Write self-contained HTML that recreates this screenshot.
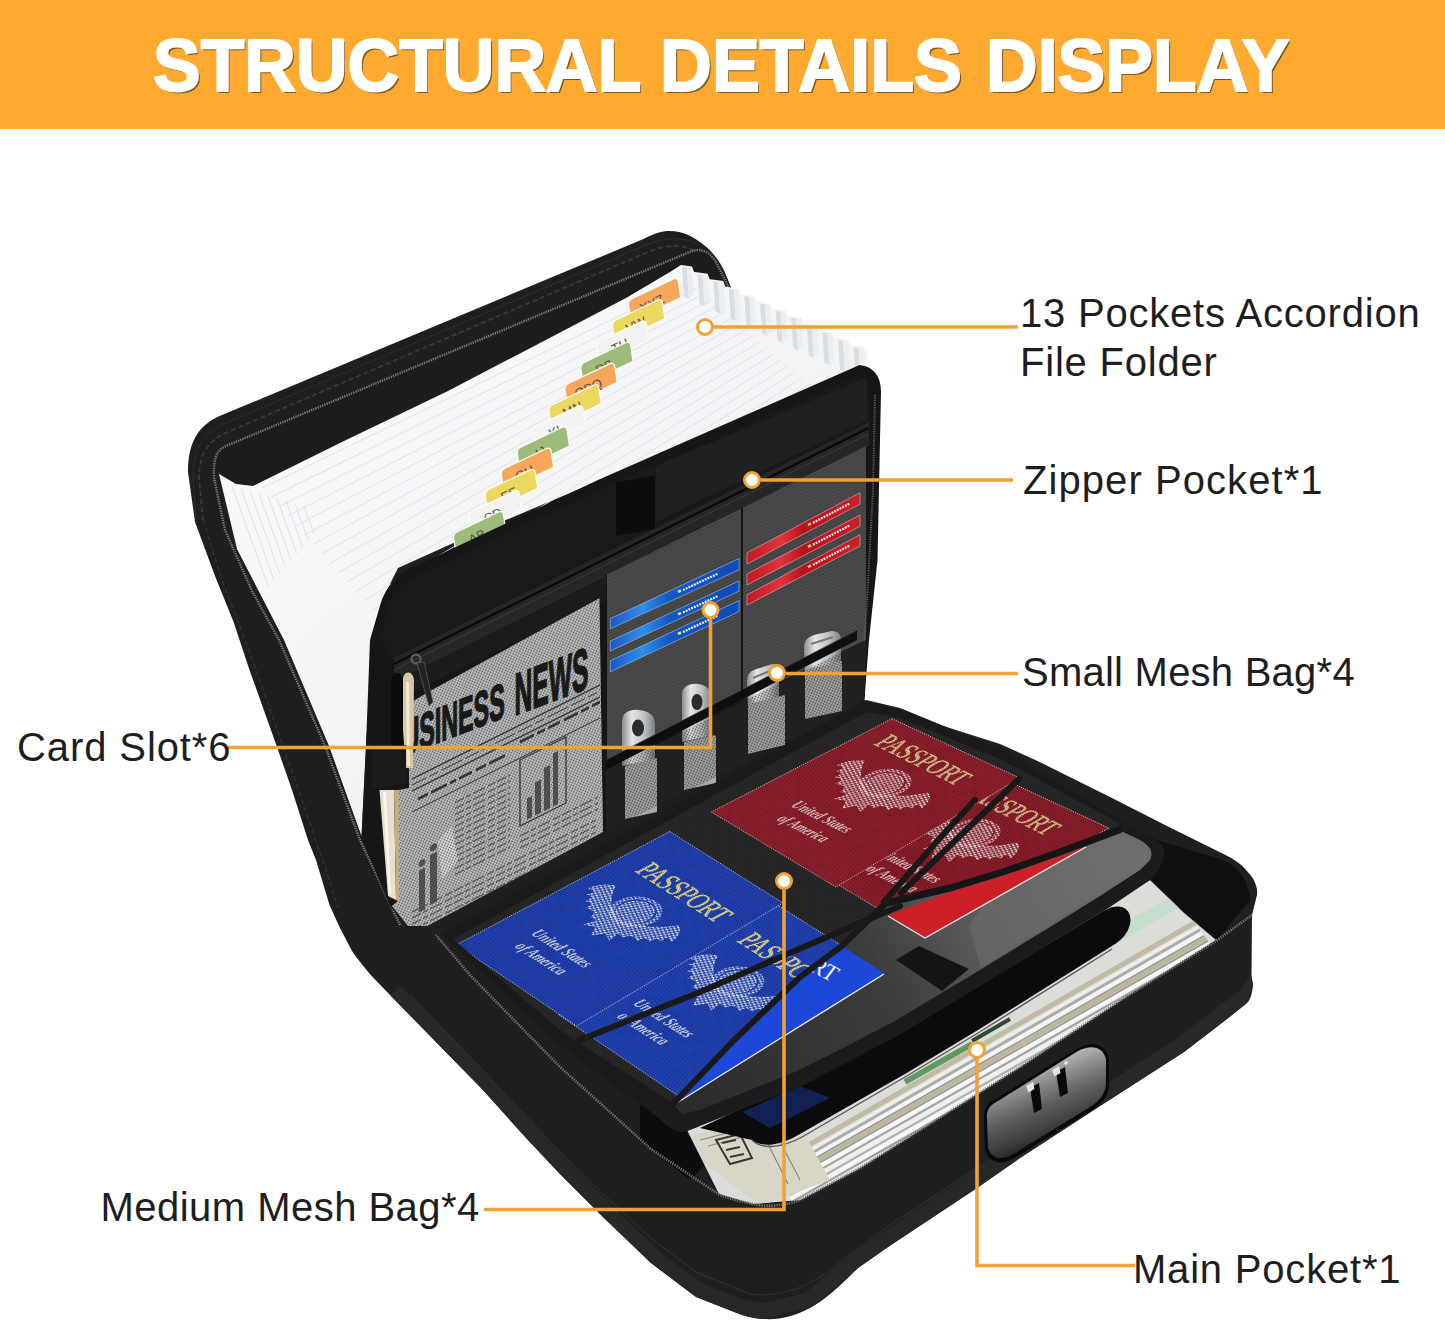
<!DOCTYPE html>
<html><head><meta charset="utf-8">
<style>
html,body{margin:0;padding:0;background:#fff;}
body{width:1445px;height:1322px;position:relative;overflow:hidden;font-family:"Liberation Sans",sans-serif;}
#hdr{position:absolute;left:0;top:0;width:1445px;height:128.7px;background:#fea92f;}
.tw{position:absolute;top:28px;white-space:nowrap;font-weight:bold;font-size:75px;line-height:75px;color:#fff;text-shadow:2px 2px 0 #7a5a20;-webkit-text-stroke:2px #fff;transform-origin:0 0;}
.lb{position:absolute;white-space:nowrap;font-size:40px;line-height:40px;color:#1e1e1e;}
#art{position:absolute;left:0;top:0;}
</style></head><body>
<div id="hdr"></div>
<div class="tw" id="t1" style="left:153.1px;transform:scaleX(0.953)">STRUCTURAL</div>
<div class="tw" id="t2" style="left:660.2px;transform:scaleX(0.958)">DETAILS</div>
<div class="tw" id="t3" style="left:986.2px;transform:scaleX(0.954)">DISPLAY</div>
<svg id="art" width="1445" height="1322" viewBox="0 0 1445 1322">
<!--PRODUCT-->
<defs>
<linearGradient id="gWhite" x1="0" y1="0" x2="1" y2="1">
<stop offset="0" stop-color="#fbfbfc"/><stop offset="1" stop-color="#eceef0"/>
</linearGradient>
<pattern id="mesh" width="3" height="3" patternUnits="userSpaceOnUse" patternTransform="rotate(20)">
<rect width="3" height="3" fill="#d9d9d9"/><rect width="1.3" height="1.3" fill="#3a3a3a"/>
</pattern>
<pattern id="meshd" width="3" height="3" patternUnits="userSpaceOnUse" patternTransform="rotate(20)">
<rect width="3" height="3" fill="#222"/><rect width="1.2" height="1.2" fill="#555"/>
</pattern>
<pattern id="wvb" width="3" height="3" patternUnits="userSpaceOnUse" patternTransform="rotate(30)">
<rect width="3" height="3" fill="#1f3db0"/><rect width="1.4" height="1.4" fill="#12298a"/>
</pattern>
<pattern id="wvr" width="3" height="3" patternUnits="userSpaceOnUse" patternTransform="rotate(30)">
<rect width="3" height="3" fill="#8f1f2c"/><rect width="1.4" height="1.4" fill="#6c141f"/>
</pattern>
<pattern id="fab" width="3" height="3" patternUnits="userSpaceOnUse" patternTransform="rotate(-25)">
<rect width="3" height="3" fill="#4a4a4b"/><rect width="3" height="1" fill="#3f3f40"/>
</pattern>
</defs>
<!-- shell silhouette -->
<path fill="#1f1f20" d="M188,472 C188,440 200,424 222,415 L644,238.8 C655,233 662,231 669,231 C677,231 684,233 689.5,235.4 C698,240 703,244 706.5,247 C712,252 715,256 718,260 C722,266 724,270 726,275 L733,292 L859,364 C875,368 880,378 880,392 L876,490 L869,602 L864,700 L871,703 L1000,744 L1037,760.7 L1110,797 L1167,826 L1223.5,854 C1236,860 1242,865 1246,870 C1252,876 1254,880 1255.3,883.5 C1257,888 1257.5,891 1257,895 L1252,915 L1251.5,976 L1253,985 C1252,995 1250,1000 1247,1003 L1227,1019 L1184,1052 L1100,1106 L1020,1158 L977,1188 L888,1247 L858,1268 C840,1286 825,1300 810,1308 C795,1316 780,1320 764,1319 C756,1319 748,1317 742,1315 L696,1297 L651,1263 L605,1219 L560,1174 L527,1139 L482,1089 L436,1042 L391,996 C375,980 362,966 352,951 L340,928 L329.5,905 L316,860 L308,840 L292,790 L277,747 L249.5,670 L233.6,622 L215.4,577 L195,522 Z"/>
<!-- piping band along base bottom -->
<path fill="#28282a" d="M391,996 L436,1042 L482,1089 L527,1139 L560,1174 L605,1219 L651,1263 L696,1297 L742,1315 L764,1319 L810,1308 L858,1268 L888,1247 L977,1188 L1020,1158 L1100,1106 L1184,1052 L1227,1019 L1247,1003 L1253,985 L1251,974 L1240,990 L1220,1005 L1177,1038 L1093,1092 L1013,1144 L970,1174 L880,1234 L850,1255 L805,1293 L764,1303 L745,1300 L702,1283 L660,1252 L614,1208 L569,1163 L536,1128 L491,1078 L445,1031 L400,985 Z"/>
<!-- lid rim stitching -->
<path fill="none" stroke="#3c3c3d" stroke-width="1.6" stroke-dasharray="5 3" d="M203,520 L199,478 C199,450 212,438 230,431 L648,252 C668,244 684,244 696,252 C708,260 716,272 722,284"/>
<path fill="none" stroke="#2c2c2d" stroke-width="1.2" d="M196,520 L193,476 C193,446 206,431 226,423 L646,245 C668,236 686,237 700,246"/>
<path fill="none" stroke="#333" stroke-width="1.4" stroke-dasharray="5 3" d="M203,520 L222,580 L242,632 L258,676 L285,752 L300,794 L316,842 L325,866 L338,908"/>
<path fill="#1d1d1e" d="M214,468 L224,446 L692,252 L708,251 L724,278 L700,292 L681,265 L628,298 L448,391 L344,441 L253,486 L232,482 Z"/>
<path fill="none" stroke="#7d7d7d" stroke-width="2.4" stroke-dasharray="1.3 1.1" d="M400,925 L360,840 L325,746 L279,640 L252,591 L225,530 L214,478 C213,455 218,450 226,446 L692,251 C705,247 712,256 716,262 L730,290"/>
<path fill="url(#gWhite)" d="M219.0,474.0 L236.0,484.0 L253.0,486.0 L344.0,441.0 L448.0,391.0 L626.0,298.0 L670.0,272.0 L681.0,265.0 L692.0,266.5 L694.0,272.0 L696.6,272.3 L707.6,273.8 L709.6,279.3 L712.2,279.6 L723.2,281.1 L725.2,286.6 L727.8,286.9 L738.8,288.4 L740.8,293.9 L743.4,294.2 L754.4,295.7 L756.4,301.2 L759.0,301.5 L770.0,303.0 L772.0,308.5 L774.6,308.8 L785.6,310.3 L787.6,315.8 L790.2,316.1 L801.2,317.6 L803.2,323.1 L805.8,323.4 L816.8,324.9 L818.8,330.4 L821.4,330.7 L832.4,332.2 L834.4,337.7 L837.0,338.0 L848.0,339.5 L850.0,345.0 L852.6,345.3 L863.6,346.8 L865.6,352.3 L868.0,350.0 L866.0,368.0 L480.0,531.0 L398.0,568.0 L382.0,600.0 L372.0,640.0 L366.0,746.0 L361.5,836.0 L329.0,746.0 L284.0,640.0 L237.0,549.0 Z"/>
<path fill="#dcdfe2" d="M682.0,267.0 L687.0,267.5 L689.0,299.0 L684.0,297.0 Z"/>
<path fill="#eceef0" d="M687.0,267.5 L692.0,268.0 L694.0,295.0 L689.0,299.0 Z"/>
<path fill="#dcdfe2" d="M697.6,274.3 L702.6,274.8 L704.6,306.3 L699.6,304.3 Z"/>
<path fill="#eceef0" d="M702.6,274.8 L707.6,275.3 L709.6,302.3 L704.6,306.3 Z"/>
<path fill="#dcdfe2" d="M713.2,281.6 L718.2,282.1 L720.2,313.6 L715.2,311.6 Z"/>
<path fill="#eceef0" d="M718.2,282.1 L723.2,282.6 L725.2,309.6 L720.2,313.6 Z"/>
<path fill="#dcdfe2" d="M728.8,288.9 L733.8,289.4 L735.8,320.9 L730.8,318.9 Z"/>
<path fill="#eceef0" d="M733.8,289.4 L738.8,289.9 L740.8,316.9 L735.8,320.9 Z"/>
<path fill="#dcdfe2" d="M744.4,296.2 L749.4,296.7 L751.4,328.2 L746.4,326.2 Z"/>
<path fill="#eceef0" d="M749.4,296.7 L754.4,297.2 L756.4,324.2 L751.4,328.2 Z"/>
<path fill="#dcdfe2" d="M760.0,303.5 L765.0,304.0 L767.0,335.5 L762.0,333.5 Z"/>
<path fill="#eceef0" d="M765.0,304.0 L770.0,304.5 L772.0,331.5 L767.0,335.5 Z"/>
<path fill="#dcdfe2" d="M775.6,310.8 L780.6,311.3 L782.6,342.8 L777.6,340.8 Z"/>
<path fill="#eceef0" d="M780.6,311.3 L785.6,311.8 L787.6,338.8 L782.6,342.8 Z"/>
<path fill="#dcdfe2" d="M791.2,318.1 L796.2,318.6 L798.2,350.1 L793.2,348.1 Z"/>
<path fill="#eceef0" d="M796.2,318.6 L801.2,319.1 L803.2,346.1 L798.2,350.1 Z"/>
<path fill="#dcdfe2" d="M806.8,325.4 L811.8,325.9 L813.8,357.4 L808.8,355.4 Z"/>
<path fill="#eceef0" d="M811.8,325.9 L816.8,326.4 L818.8,353.4 L813.8,357.4 Z"/>
<path fill="#dcdfe2" d="M822.4,332.7 L827.4,333.2 L829.4,364.7 L824.4,362.7 Z"/>
<path fill="#eceef0" d="M827.4,333.2 L832.4,333.7 L834.4,360.7 L829.4,364.7 Z"/>
<path fill="#dcdfe2" d="M838.0,340.0 L843.0,340.5 L845.0,372.0 L840.0,370.0 Z"/>
<path fill="#eceef0" d="M843.0,340.5 L848.0,341.0 L850.0,368.0 L845.0,372.0 Z"/>
<path fill="#dcdfe2" d="M853.6,347.3 L858.6,347.8 L860.6,379.3 L855.6,377.3 Z"/>
<path fill="#eceef0" d="M858.6,347.8 L863.6,348.3 L865.6,375.3 L860.6,379.3 Z"/>
<g stroke="#dfe2e6" stroke-width="1" fill="none">
<path d="M262.0,488.0 L690.0,282.0"/>
<path d="M270.5,497.4 L697.0,288.0"/>
<path d="M279.0,506.8 L704.0,294.0"/>
<path d="M287.5,516.2 L711.0,300.0"/>
<path d="M296.0,525.6 L718.0,306.0"/>
<path d="M304.5,535.0 L725.0,312.0"/>
<path d="M313.0,544.4 L732.0,318.0"/>
<path d="M321.5,553.8 L739.0,324.0"/>
<path d="M330.0,563.2 L746.0,330.0"/>
<path d="M338.5,572.6 L753.0,336.0"/>
<path d="M347.0,582.0 L760.0,342.0"/>
<path d="M355.5,591.4 L767.0,348.0"/>
<path d="M364.0,600.8 L774.0,354.0"/>
<path d="M372.5,610.2 L781.0,360.0"/>
<path d="M381.0,619.6 L788.0,366.0"/>
<path d="M389.5,629.0 L795.0,372.0"/>
<path d="M398.0,638.4 L802.0,378.0"/>
<path d="M406.5,647.8 L809.0,384.0"/>
<path d="M415.0,657.2 L816.0,390.0"/>
<path d="M423.5,666.6 L823.0,396.0"/>
<path d="M432.0,676.0 L830.0,402.0"/>
<path d="M440.5,685.4 L837.0,408.0"/>
<path d="M449.0,694.8 L844.0,414.0"/>
<path d="M457.5,704.2 L851.0,420.0"/>
<path d="M466.0,713.6 L858.0,426.0"/>
<path d="M474.5,723.0 L865.0,432.0"/>
</g>
<g stroke="#e3e5e8" stroke-width="1.2" fill="none">
<path d="M232.0,486.0 L268.0,586.0"/>
<path d="M241.0,488.5 L273.8,579.5"/>
<path d="M250.0,491.0 L279.5,573.0"/>
<path d="M259.0,493.5 L285.3,566.5"/>
<path d="M268.0,496.0 L291.0,560.0"/>
<path d="M277.0,498.5 L296.8,553.5"/>
<path d="M286.0,501.0 L302.6,547.0"/>
<path d="M295.0,503.5 L308.3,540.5"/>
<path d="M304.0,506.0 L314.1,534.0"/>
</g>
<clipPath id="ct0"><path d="M628.6,305.6 Q628.0,300.6 632.5,298.5 L673.1,279.1 Q677.6,277.0 678.4,282.0 L680.8,297.6 L631.2,321.2 Z"/></clipPath>
<path fill="#f6a75c" stroke="#fbfbf6" stroke-width="1.2" d="M628.6,305.6 Q628.0,300.6 632.5,298.5 L673.1,279.1 Q677.6,277.0 678.4,282.0 L680.8,297.6 L631.2,321.2 Z"/>
<g clip-path="url(#ct0)"><text x="654.0" y="307.6" font-family="Liberation Sans, sans-serif" font-size="13" fill="#55554a" text-anchor="middle" transform="rotate(-25.4 654.0 307.6)">XYZ</text></g>
<clipPath id="ct1"><path d="M612.7,326.8 Q612.1,321.8 616.6,319.7 L657.2,300.3 Q661.7,298.2 662.5,303.2 L664.9,318.8 L615.3,342.4 Z"/></clipPath>
<path fill="#ebd85e" stroke="#fbfbf6" stroke-width="1.2" d="M612.7,326.8 Q612.1,321.8 616.6,319.7 L657.2,300.3 Q661.7,298.2 662.5,303.2 L664.9,318.8 L615.3,342.4 Z"/>
<g clip-path="url(#ct1)"><text x="638.1" y="328.8" font-family="Liberation Sans, sans-serif" font-size="13" fill="#55554a" text-anchor="middle" transform="rotate(-25.4 638.1 328.8)">VW</text></g>
<clipPath id="ct2"><path d="M596.8,348.0 Q596.2,343.0 600.7,340.9 L641.3,321.5 Q645.8,319.4 646.6,324.4 L649.0,340.0 L599.4,363.6 Z"/></clipPath>
<path fill="#f3f3f1" stroke="#fbfbf6" stroke-width="1.2" d="M596.8,348.0 Q596.2,343.0 600.7,340.9 L641.3,321.5 Q645.8,319.4 646.6,324.4 L649.0,340.0 L599.4,363.6 Z"/>
<g clip-path="url(#ct2)"><text x="622.2" y="350.0" font-family="Liberation Sans, sans-serif" font-size="13" fill="#55554a" text-anchor="middle" transform="rotate(-25.4 622.2 350.0)">TU</text></g>
<clipPath id="ct3"><path d="M580.9,369.2 Q580.3,364.2 584.8,362.1 L625.4,342.7 Q629.9,340.6 630.7,345.6 L633.1,361.2 L583.5,384.8 Z"/></clipPath>
<path fill="#9dbc7c" stroke="#fbfbf6" stroke-width="1.2" d="M580.9,369.2 Q580.3,364.2 584.8,362.1 L625.4,342.7 Q629.9,340.6 630.7,345.6 L633.1,361.2 L583.5,384.8 Z"/>
<g clip-path="url(#ct3)"><text x="606.3" y="371.2" font-family="Liberation Sans, sans-serif" font-size="13" fill="#55554a" text-anchor="middle" transform="rotate(-25.4 606.3 371.2)">RS</text></g>
<clipPath id="ct4"><path d="M565.0,390.4 Q564.4,385.4 568.9,383.3 L609.5,363.9 Q614.0,361.8 614.8,366.8 L617.2,382.4 L567.6,406.0 Z"/></clipPath>
<path fill="#f6a75c" stroke="#fbfbf6" stroke-width="1.2" d="M565.0,390.4 Q564.4,385.4 568.9,383.3 L609.5,363.9 Q614.0,361.8 614.8,366.8 L617.2,382.4 L567.6,406.0 Z"/>
<g clip-path="url(#ct4)"><text x="590.4" y="392.4" font-family="Liberation Sans, sans-serif" font-size="13" fill="#55554a" text-anchor="middle" transform="rotate(-25.4 590.4 392.4)">OPQ</text></g>
<clipPath id="ct5"><path d="M549.1,411.6 Q548.5,406.6 553.0,404.5 L593.6,385.1 Q598.1,383.0 598.9,388.0 L601.3,403.6 L551.7,427.2 Z"/></clipPath>
<path fill="#ebd85e" stroke="#fbfbf6" stroke-width="1.2" d="M549.1,411.6 Q548.5,406.6 553.0,404.5 L593.6,385.1 Q598.1,383.0 598.9,388.0 L601.3,403.6 L551.7,427.2 Z"/>
<g clip-path="url(#ct5)"><text x="574.5" y="413.6" font-family="Liberation Sans, sans-serif" font-size="13" fill="#55554a" text-anchor="middle" transform="rotate(-25.4 574.5 413.6)">MN</text></g>
<clipPath id="ct6"><path d="M533.2,432.8 Q532.6,427.8 537.1,425.7 L577.7,406.3 Q582.2,404.2 583.0,409.2 L585.4,424.8 L535.8,448.4 Z"/></clipPath>
<path fill="#f3f3f1" stroke="#fbfbf6" stroke-width="1.2" d="M533.2,432.8 Q532.6,427.8 537.1,425.7 L577.7,406.3 Q582.2,404.2 583.0,409.2 L585.4,424.8 L535.8,448.4 Z"/>
<g clip-path="url(#ct6)"><text x="558.6" y="434.8" font-family="Liberation Sans, sans-serif" font-size="13" fill="#55554a" text-anchor="middle" transform="rotate(-25.4 558.6 434.8)">KL</text></g>
<clipPath id="ct7"><path d="M517.3,454.0 Q516.7,449.0 521.2,446.9 L561.8,427.5 Q566.3,425.4 567.1,430.4 L569.5,446.0 L519.9,469.6 Z"/></clipPath>
<path fill="#9dbc7c" stroke="#fbfbf6" stroke-width="1.2" d="M517.3,454.0 Q516.7,449.0 521.2,446.9 L561.8,427.5 Q566.3,425.4 567.1,430.4 L569.5,446.0 L519.9,469.6 Z"/>
<g clip-path="url(#ct7)"><text x="542.7" y="456.0" font-family="Liberation Sans, sans-serif" font-size="13" fill="#55554a" text-anchor="middle" transform="rotate(-25.4 542.7 456.0)">IJ</text></g>
<clipPath id="ct8"><path d="M501.4,475.2 Q500.8,470.2 505.3,468.1 L545.9,448.7 Q550.4,446.6 551.2,451.6 L553.6,467.2 L504.0,490.8 Z"/></clipPath>
<path fill="#f6a75c" stroke="#fbfbf6" stroke-width="1.2" d="M501.4,475.2 Q500.8,470.2 505.3,468.1 L545.9,448.7 Q550.4,446.6 551.2,451.6 L553.6,467.2 L504.0,490.8 Z"/>
<g clip-path="url(#ct8)"><text x="526.8" y="477.2" font-family="Liberation Sans, sans-serif" font-size="13" fill="#55554a" text-anchor="middle" transform="rotate(-25.4 526.8 477.2)">GH</text></g>
<clipPath id="ct9"><path d="M485.5,496.4 Q484.9,491.4 489.4,489.3 L530.0,469.9 Q534.5,467.8 535.3,472.8 L537.7,488.4 L488.1,512.0 Z"/></clipPath>
<path fill="#ebd85e" stroke="#fbfbf6" stroke-width="1.2" d="M485.5,496.4 Q484.9,491.4 489.4,489.3 L530.0,469.9 Q534.5,467.8 535.3,472.8 L537.7,488.4 L488.1,512.0 Z"/>
<g clip-path="url(#ct9)"><text x="510.9" y="498.4" font-family="Liberation Sans, sans-serif" font-size="13" fill="#55554a" text-anchor="middle" transform="rotate(-25.4 510.9 498.4)">EF</text></g>
<clipPath id="ct10"><path d="M469.6,517.6 Q469.0,512.6 473.5,510.5 L514.1,491.1 Q518.6,489.0 519.4,494.0 L521.8,509.6 L472.2,533.2 Z"/></clipPath>
<path fill="#f3f3f1" stroke="#fbfbf6" stroke-width="1.2" d="M469.6,517.6 Q469.0,512.6 473.5,510.5 L514.1,491.1 Q518.6,489.0 519.4,494.0 L521.8,509.6 L472.2,533.2 Z"/>
<g clip-path="url(#ct10)"><text x="495.0" y="519.6" font-family="Liberation Sans, sans-serif" font-size="13" fill="#55554a" text-anchor="middle" transform="rotate(-25.4 495.0 519.6)">CD</text></g>
<clipPath id="ct11"><path d="M453.7,538.8 Q453.1,533.8 457.6,531.7 L498.2,512.3 Q502.7,510.2 503.5,515.2 L505.9,530.8 L456.3,554.4 Z"/></clipPath>
<path fill="#9dbc7c" stroke="#fbfbf6" stroke-width="1.2" d="M453.7,538.8 Q453.1,533.8 457.6,531.7 L498.2,512.3 Q502.7,510.2 503.5,515.2 L505.9,530.8 L456.3,554.4 Z"/>
<g clip-path="url(#ct11)"><text x="479.1" y="540.8" font-family="Liberation Sans, sans-serif" font-size="13" fill="#55554a" text-anchor="middle" transform="rotate(-25.4 479.1 540.8)">AB</text></g>
<!-- divider panel -->
<path fill="#161616" d="M859.5,365 C874,367 881,376 881,392 L877.5,560 L869,640 L864,706 L726,772 L603,832 L534,869 L427,926 L408,927 L390,906 L361.5,838 L366,746 L370,640 L380.5,604 C386,585 400,572 422,563 L598,480 Z"/>
<!-- top glossy band -->
<path fill="#19191a" d="M857,376 C868,378 871,384 871,394 L869,426 L640,536 L394,662 L380,640 L388,606 C394,590 404,580 424,572 L598,490 Z"/>
<path fill="#202021" d="M656,466 L866,378 L868,420 L656,522 Z"/>
<!-- velcro -->
<path fill="#0c0c0c" d="M616,482 L655,476 L655,529 L616,536 Z"/>
<!-- zipper tape -->
<path fill="#262627" d="M869,422 L394,658 L394,682 L869,446 Z"/>
<path fill="none" stroke="#0a0a0a" stroke-width="2.2" d="M868.5,428 L394,664"/>
<path fill="none" stroke="#3d3d3d" stroke-width="1" d="M868.5,434 L394,670"/>
<!-- card fabric -->
<path fill="url(#fab)" d="M606,575 L742,508 L866,446 L866,640 L742,700 L606,768 Z"/>
<path fill="none" stroke="#151515" stroke-width="2" d="M742,508 L742,700 M606,575 L606,768"/>
<!-- panel right zipper -->
<path fill="none" stroke="#5e5e5e" stroke-width="2" stroke-dasharray="1.2 1.2" d="M875,395 L873,490 L867,600 L861,690"/>
<defs><linearGradient id="gBlue" x1="0" y1="0" x2="1" y2="0"><stop offset="0" stop-color="#1a56c8"/><stop offset="0.25" stop-color="#2f8fe8"/><stop offset="0.45" stop-color="#1558c4"/><stop offset="1" stop-color="#0f4cb8"/></linearGradient>
<linearGradient id="gRed" x1="0" y1="0" x2="1" y2="0"><stop offset="0" stop-color="#c41822"/><stop offset="0.3" stop-color="#e0343c"/><stop offset="0.5" stop-color="#b8121c"/><stop offset="1" stop-color="#c8202a"/></linearGradient>
<linearGradient id="gUsb" x1="0" y1="0" x2="1" y2="0"><stop offset="0" stop-color="#8a8d90"/><stop offset="0.3" stop-color="#e4e6e8"/><stop offset="0.7" stop-color="#b9bcbf"/><stop offset="1" stop-color="#7d8083"/></linearGradient></defs>
<path fill="url(#gBlue)" stroke="#9fc4f0" stroke-width="0.6" d="M610.4,618.6 L739.0,558.5 L739.0,569.7 L610.4,628.8 Z"/>
<path stroke="#d8f07a" stroke-width="2.5" d="M678.0,591.9 l3,-1.4"/>
<path stroke="#e8eef8" stroke-width="2.2" stroke-dasharray="2 1" d="M683.0,590.0 L718.0,573.6"/>
<path fill="url(#gBlue)" stroke="#9fc4f0" stroke-width="0.6" d="M610.4,641.0 L739.0,580.9 L739.0,591.2 L610.4,651.0 Z"/>
<path stroke="#d8f07a" stroke-width="2.5" d="M678.0,614.3 l3,-1.4"/>
<path stroke="#e8eef8" stroke-width="2.2" stroke-dasharray="2 1" d="M683.0,612.4 L718.0,596.0"/>
<path fill="url(#gBlue)" stroke="#9fc4f0" stroke-width="0.6" d="M610.4,660.6 L739.0,600.5 L739.0,611.6 L610.4,671.8 Z"/>
<path stroke="#d8f07a" stroke-width="2.5" d="M678.0,633.9 l3,-1.4"/>
<path stroke="#e8eef8" stroke-width="2.2" stroke-dasharray="2 1" d="M683.0,632.0 L718.0,615.6"/>
<path fill="url(#gRed)" stroke="#f0b0b0" stroke-width="0.6" d="M747.0,552.9 L860.0,492.7 L860.0,504.0 L747.0,564.0 Z"/>
<path stroke="#f0e070" stroke-width="2.5" d="M808.0,525.0 l3,-1.5"/>
<path stroke="#f6e6e6" stroke-width="2.2" stroke-dasharray="2 1" d="M813.0,522.8 L850.0,503.4"/>
<path fill="url(#gRed)" stroke="#f0b0b0" stroke-width="0.6" d="M747.0,573.9 L860.0,515.1 L860.0,526.3 L747.0,585.0 Z"/>
<path stroke="#f0e070" stroke-width="2.5" d="M808.0,546.9 l3,-1.5"/>
<path stroke="#f6e6e6" stroke-width="2.2" stroke-dasharray="2 1" d="M813.0,544.7 L850.0,525.3"/>
<path fill="url(#gRed)" stroke="#f0b0b0" stroke-width="0.6" d="M747.0,594.9 L860.0,534.7 L860.0,545.9 L747.0,605.2 Z"/>
<path stroke="#f0e070" stroke-width="2.5" d="M808.0,567.0 l3,-1.5"/>
<path stroke="#f6e6e6" stroke-width="2.2" stroke-dasharray="2 1" d="M813.0,564.8 L850.0,545.4"/>
<!-- mesh pocket w/ newspaper -->
<defs>
<clipPath id="cNews"><path d="M415,700 L432,690 L599.4,598.3 L603,832 L534,869 L427,926 L408,926 L392,906 L399,900 L399,790 L409,788 L409,703 Z"/></clipPath>
<pattern id="dots" width="2.6" height="2.6" patternUnits="userSpaceOnUse" patternTransform="rotate(24)">
<circle cx="1.3" cy="1.3" r="0.8" fill="#222"/>
</pattern>
</defs>
<path fill="#1c1c1c" d="M394,682 L606,577 L606,600 L394,700 Z"/>
<g clip-path="url(#cNews)">
<rect x="380" y="590" width="240" height="340" fill="#c6c6c6"/>
<!-- headline -->
<g transform="matrix(0.466,-0.18,0,1,385.6,763)">
<text x="0" y="0" font-family="Liberation Sans, sans-serif" font-weight="bold" font-size="50" fill="#161616" stroke="#161616" stroke-width="1.6">BUSINESS</text>
</g>
<g transform="matrix(0.417,-0.156,0,1,514.6,715.5)">
<text x="0" y="0" font-family="Liberation Sans, sans-serif" font-weight="bold" font-size="59" fill="#161616" stroke="#161616" stroke-width="1.8">NEWS</text>
</g>
<!-- rules and text lines, skewed -->
<g transform="matrix(1,-0.5,0,1,0,0)" fill="none" stroke="#3a3a3a">
<path stroke-width="1.6" d="M412,985 H600"/>
<path stroke-width="1" stroke-dasharray="14 3 9 4 20 3" d="M412,991 H600"/>
<path stroke-width="1.6" d="M412,997 H600"/>
<path stroke-width="3" stroke-dasharray="10 3 16 3 6 3 13 4" d="M418,1008 H505"/>
<path stroke-width="3" stroke-dasharray="14 3 8 3 12 4" d="M520,1002 H600"/>
<path stroke-width="1.2" d="M412,1018 H600"/>
<g stroke-width="1.5" stroke="#6a6a6a" stroke-dasharray="9 2 5 2 12 3 7 2">
<path d="M455,1030 H510 M455,1036 H510 M455,1042 H510 M455,1048 H510 M455,1054 H510 M455,1060 H510 M455,1066 H510 M455,1072 H510 M455,1078 H510 M455,1084 H510 M455,1090 H510 M455,1096 H510 M455,1102 H510"/>
<path d="M412,1118 H598 M412,1124 H598 M412,1130 H598 M412,1136 H598 M412,1142 H598 M412,1148 H598 M412,1154 H598 M412,1160 H560"/>
<path d="M520,1096 H598 M520,1102 H598 M520,1108 H598"/>
</g>
<!-- chart box -->
<path stroke-width="1.3" d="M520,1020 H566 V1086 H520 Z"/>
<path stroke="none" fill="#5a5a5a" d="M527,1083 V1062 H532 V1083 Z M535,1083 V1050 H541 V1083 Z M544,1083 V1040 H550 V1083 Z M553,1083 V1030 H558 V1083 Z"/>
<!-- people figures -->
<path stroke="none" fill="#5c5c5c" d="M419,1080 h6 v42 h-6 Z M430,1070 h7 v50 h-7 Z"/>
<circle cx="422" cy="1074" r="3.4" stroke="none" fill="#5c5c5c"/>
<circle cx="433.5" cy="1064" r="3.6" stroke="none" fill="#5c5c5c"/>
<path stroke="none" fill="#e9e9e9" opacity="0.8" d="M438,1060 L452,1052 L458,1090 L442,1100 Z"/>
</g>
<rect x="380" y="590" width="240" height="340" fill="url(#dots)" opacity="0.75"/>
</g>
<!-- pen -->
<path fill="#0b0b0b" d="M391,682 C391,672 401,670 403,678 L403,750 L391,750 Z"/>
<path fill="#d9c9a2" d="M403,678 C405,670 413,671 414,680 L413,768 L406,768 L403,730 Z"/>
<path fill="#f1ead8" d="M406,682 L409,682 L410,766 L407,766 Z"/>
<path fill="#e9e1cf" d="M379.5,790 L394,790 L396,900 L388,896 Z"/>
<path fill="#bfae86" d="M394,790 L399,790 L399,902 L396,900 Z"/>
<path fill="#fbf8f0" d="M383,792 L386,792 L391,895 L389,893 Z"/>
<!-- strap -->
<path fill="#1b1b1b" d="M372,750 L406,745 L406,783 L371,790 Z"/>
<!-- zipper pull -->
<path fill="none" stroke="#5a5a5a" stroke-width="2.4" d="M411.5,659 a4.5,4.5 0 1,0 9,0 a4.5,4.5 0 1,0 -9,0"/>
<path fill="#222" stroke="#5a5a5a" stroke-width="0.8" d="M417,663 L424,662 L433,702 L429,706 Z"/>
<!-- small mesh bags + usb -->
<path fill="#202020" d="M606,770 L866,640 L864,706 L726,772 L606,831 Z"/>
<g>
<!-- usb bodies -->
<path fill="url(#gUsb)" d="M622,722 C622,712 630,709 639,710 C650,711 655,716 655,724 L655,760 L622,766 Z"/>
<ellipse cx="638" cy="728" rx="6" ry="8.5" fill="#2c2c2c"/>
<path fill="url(#gUsb)" d="M682,695 C682,686 690,683 698,684 C707,685 711,690 711,697 L711,736 L682,742 Z"/>
<ellipse cx="697" cy="702" rx="5.5" ry="8" fill="#2c2c2c"/>
<path fill="url(#gUsb)" d="M747,682 C747,672 752,670 760,668 L772,664 C778,664 780,668 779,674 L779,700 L748,708 Z"/>
<path fill="none" stroke="#777" stroke-width="2" d="M753,678 L772,670"/>
<path fill="url(#gUsb)" d="M804,648 C804,639 809,636 818,634 L832,631 C839,631 841,635 841,641 L841,668 L805,678 Z"/>
<path fill="none" stroke="#777" stroke-width="2" d="M811,644 L833,637"/>
<!-- mesh-covered lower parts -->
<path fill="#a9a9a9" d="M625,766 L657,758 L657,812 L625,819 Z"/>
<path fill="#a9a9a9" d="M684,742 L716,735 L716,783 L684,790 Z"/>
<path fill="#a9a9a9" d="M748,704 L785,695 L785,745 L748,754 Z"/>
<path fill="#a9a9a9" d="M805,670 L842,661 L842,711 L805,719 Z"/>
<path fill="url(#dots)" opacity="0.8" d="M606,770 L866,640 L864,706 L726,772 L606,831 Z"/>
<!-- elastic -->
<path fill="#0e0e0e" d="M606,760 L857,630.5 L857,640 L606,770 Z"/>
<path fill="none" stroke="#333" stroke-width="0.8" d="M606,760 L857,630.5"/>
</g>
<!-- base interior & contents -->
<defs>
<linearGradient id="gLin" gradientUnits="userSpaceOnUse" x1="680" y1="1110" x2="1150" y2="850"><stop offset="0" stop-color="#2b2b2c"/><stop offset="0.45" stop-color="#3c3c3d"/><stop offset="0.62" stop-color="#58585a"/><stop offset="1" stop-color="#6e6e70"/></linearGradient>
<linearGradient id="gLock" x1="0" y1="0" x2="0.35" y2="1"><stop offset="0" stop-color="#9a9c9e"/><stop offset="0.35" stop-color="#6a6c6e"/><stop offset="0.7" stop-color="#3a3b3c"/><stop offset="1" stop-color="#1e1e1f"/></linearGradient>
<clipPath id="cDocs"><path d="M686,1128 L905,1030 L1150,880 L1183,912 L1216,940 L1121,1000 L1020,1067 L860,1168 L800,1200 L753,1204 L719,1194 Z"/></clipPath>
</defs>
<!-- interior right wall -->
<path fill="#0f0f10" d="M1150,838 L1223,860 C1240,868 1248,880 1250,900 L1215,942 L1120,985 L1100,900 Z"/>
<!-- interior left (under flap corner) -->
<path fill="#0c0c0c" d="M640,1105 L700,1130 L705,1165 L690,1180 L640,1140 Z"/>
<!-- documents -->
<g clip-path="url(#cDocs)">
<rect x="660" y="860" width="580" height="360" fill="#dcdcd8"/>
<g fill="none" stroke-width="3">
<path stroke="#c6dccd" stroke-width="14" d="M880,1072 L1190,893"/>
<path stroke="#5e9a62" stroke-width="6" d="M905,1082 L972,1044"/>
<path stroke="#2d4a34" stroke-width="4" d="M972,1041 L1010,1019"/>
<path stroke="#c2baa2" stroke-width="5" d="M800,1150 L1196,922"/>
<path stroke="#eeeeea" d="M800,1156 L1198,927"/>
<path stroke="#a9abad" d="M800,1160 L1200,930"/>
<path stroke="#f5f5f4" stroke-width="4" d="M800,1164 L1202,933"/>
<path stroke="#8f9193" stroke-width="1.5" d="M800,1167 L1204,936"/>
<path stroke="#bdb59c" stroke-width="5" d="M790,1176 L1206,938"/>
<path stroke="#8f9193" stroke-width="1.5" d="M790,1180 L1208,941"/>
<path stroke="#f6f6f5" stroke-width="4" d="M790,1183 L1210,943"/>
<path stroke="#9fa1a3" stroke-width="2" d="M790,1187 L1212,946"/>
<path stroke="#efefed" stroke-width="4" d="M790,1191 L1214,949"/>
<path stroke="#aeb0b2" stroke-width="2" d="M790,1195 L1216,952"/>
<path stroke="#f7f7f6" stroke-width="4" d="M790,1199 L1218,955"/>
<path stroke="#9a9c9e" stroke-width="2" d="M790,1203 L1220,958"/>
<path stroke="#e9e9e7" stroke-width="4" d="M790,1207 L1222,961"/>
<path stroke="#a4a6a8" stroke-width="2" d="M790,1211 L1224,964"/>
<path stroke="#f2f2f0" stroke-width="4" d="M790,1215 L1226,967"/>
</g>
<!-- money -->
<path fill="#d8d6c6" d="M692,1135 L790,1108 L830,1180 L760,1206 L704,1163 Z"/>
<path fill="none" stroke="#8a8a7c" stroke-width="1.2" d="M700,1140 L770,1122 L800,1180 M708,1146 L762,1132 L788,1184"/>
<path fill="none" stroke="#3a3a34" stroke-width="2" d="M716,1140 L740,1134 L752,1158 L730,1164 Z M722,1143 l14,-3 M726,1150 l14,-3 M730,1157 l14,-3"/>
</g>
<!-- tablet -->
<path fill="#0b0b0e" d="M700,1128 L905,1030 L1105,910 C1120,902 1133,908 1130,924 C1128,933 1122,940 1112,946 L978,1030 L905,1074 L800,1134 C780,1146 762,1148 752,1140 Z"/>
<path fill="none" stroke="#55585c" stroke-width="1.4" d="M752,1140 C762,1150 782,1148 802,1137 L905,1077 L978,1033 L1112,949"/>
<path fill="#142a6a" opacity="0.75" d="M742,1112 L800,1086 L830,1098 L770,1128 Z"/>
<!-- flap binding -->
<path fill="#1b1b1b" d="M441,934 L866,700 L900,708 L1000,749 L1150,838 C1162,843 1166,848 1164,856 C1162,866 1156,874 1150,880 L1110,907 L1064,935 L977,988 L900,1034.6 L850,1061 L804,1085 L750,1106 L700,1126 C690,1130 682,1134 676,1131 C668,1127 662,1122 656,1116 L560,1045 Z"/>
<!-- lining (grey) -->
<path fill="url(#gLin)" d="M886,903 L950,888 L1006,871 L1060,852 L1119,830 L1140,840 C1150,846 1154,852 1150,860 L1140,870 L1100,896 L1055,924 L970,976 L893,1022 L843,1048 L797,1071 L745,1092 L700,1110 L682,1114 L673,1104 L734,1040 L800,977 L842,946 Z"/>
<path fill="#727274" opacity="0.45" d="M969,925 L1006,875 L1060,856 L1119,834 L1138,843 C1148,849 1151,854 1146,862 L1100,894 L1055,922 L981,968 Z"/>
<!-- bright blue -->
<path fill="#1d47d6" d="M842,946 L884,973 L776,1040 L682,1099 L673,1104 L734,1040 L800,977 Z"/>
<path fill="none" stroke="#e8ecf8" stroke-width="1.4" d="M884,974 L776,1041 L675,1104"/>
<g transform="matrix(0.8,0.42,-0.6,0.8,808,970)"><text x="0" y="0" font-family="Liberation Serif, serif" font-size="24" fill="#f4f4f4">RT</text></g>
<!-- bright red -->
<path fill="#cc1f27" d="M888,915 L950,892 L1006,875 L1060,856 L1086,846 L925,937 Z"/>
<path fill="none" stroke="#f1dada" stroke-width="1.4" d="M888,916 L925,938 L1086,847"/>
<!-- velcro -->
<path fill="#141414" d="M896,960 L919,946 L969,969 L942,991 Z"/>
<!-- front rim zipper, lock -->
<path fill="none" stroke="#777" stroke-width="2.6" stroke-dasharray="1.3 1.2" d="M1252,915 L1216,941 L1121,1000 L1020,1067 L860,1168 L800,1200 C785,1206 765,1207 753,1204 C740,1201 730,1199 719,1194.5 L651,1149 L560,1067 L470,975 L436,935"/>
<path fill="none" stroke="#2c2c2c" stroke-width="1.5" d="M1251,990 L1227,1006 L1184,1038 L1100,1090 L1020,1140 L977,1168 L888,1226 L840,1262 C810,1288 780,1298 750,1294 L696,1272 L651,1238 L605,1196 L560,1152 L482,1070 L410,995"/>
<!-- lock -->
<defs><linearGradient id="gLock2" gradientUnits="userSpaceOnUse" x1="1030" y1="1070" x2="1058" y2="1140"><stop offset="0" stop-color="#b4b6b8"/><stop offset="0.22" stop-color="#8a8c8e"/><stop offset="0.5" stop-color="#5e6062"/><stop offset="0.85" stop-color="#38393a"/><stop offset="1" stop-color="#222"/></linearGradient></defs>
<path fill="#0a0a0a" d="M984,1120 C983,1108 988,1102 997,1098 L1078,1048 C1093,1040 1106,1044 1109,1058 L1109,1084 C1109,1096 1102,1104 1091,1111 L1013,1159 C1000,1166 988,1162 985,1150 Z"/>
<path fill="url(#gLock2)" d="M987,1119 C986,1110 990,1105 998,1101 L1078,1051 C1092,1044 1103,1047 1106,1059 L1106,1082 C1106,1093 1100,1101 1090,1107 L1012,1155 C1001,1161 991,1158 988,1148 Z"/>
<path fill="#0a0a0a" d="M1030,1088 l9,-5 l3,26 l-8,4 Z M1056,1072 l9,-5 l3,26 l-8,4 Z"/>
<path fill="#e6e6e6" d="M1026,1086 l7,-4 l1.5,7 l-6,3.5 Z M1052,1070 l7,-4 l1.5,7 l-6,3.5 Z"/>
<circle cx="1066" cy="1063" r="1.8" fill="#eee"/>
<!-- mesh pocket layer with passports -->
<defs>
<clipPath id="cMeshL"><path d="M453,939 L866,712 L900,718 L1000,759 L1119,823 L1119,830 L1060,852 L1006,871 L950,888 L886,903 L842,946 L800,977 L734,1040 L673,1104 L668,1100 L565,1034 Z"/></clipPath>
<pattern id="mdot" width="2.4" height="2.4" patternUnits="userSpaceOnUse" patternTransform="rotate(27)">
<rect width="2.4" height="2.4" fill="none"/><circle cx="1.2" cy="1.2" r="0.55" fill="#000" opacity="0.5"/>
</pattern>
<pattern id="wdot" width="2.2" height="2.2" patternUnits="userSpaceOnUse" patternTransform="rotate(27)">
<circle cx="1.1" cy="1.1" r="0.8" fill="#fff"/>
</pattern>
</defs>
<g clip-path="url(#cMeshL)">
<rect x="430" y="700" width="740" height="420" fill="#29292a"/>
<path fill="#2243b6" stroke="#c9cfe8" stroke-width="0.9" stroke-dasharray="1.2 1" d="M771.7,901.5 L885.0,973.0 L678.5,1096.0 L558.6,1014.7 Z"/>
<g transform="matrix(0.660,0.418,-1.060,0.560,736.0,941.0)"><text font-family="Liberation Serif, serif" font-size="26" fill="#ddd58e" stroke="#ddd58e" stroke-width="0.5">PASSPORT</text></g>
<g transform="matrix(0.786,0.498,-0.883,0.467,724.0,989.0) scale(1.55)" fill="url(#wdot)" stroke="url(#wdot)" opacity="0.92"><path d="M0,-20 C6,-20 10,-15 10,-9 C10,-5 8,-2 5,0 C12,-2 20,-8 26,-18 C30,-16 33,-12 34,-6 C30,-8 28,-6 30,-2 C27,-3 25,-1 26,3 C22,1 20,3 21,7 C16,5 13,7 13,11 L8,10 L10,18 L4,15 L0,22 L-4,15 L-10,18 L-8,10 L-13,11 C-13,7 -16,5 -21,7 C-20,3 -22,1 -26,3 C-25,-1 -27,-3 -30,-2 C-28,-6 -30,-8 -34,-6 C-33,-12 -30,-16 -26,-18 C-20,-8 -12,-2 -5,0 C-8,-2 -10,-5 -10,-9 C-10,-15 -6,-20 0,-20 Z"/><circle cx="0" cy="-10" r="13" fill="none" stroke-width="3"/></g>
<g transform="matrix(0.660,0.418,-1.060,0.560,632.0,1004.0)"><text font-family="Liberation Serif, serif" font-style="italic" font-weight="bold" font-size="15" fill="#d5d8ea" opacity="0.95">United States</text></g>
<g transform="matrix(0.660,0.418,-1.060,0.560,616.0,1017.0)"><text font-family="Liberation Serif, serif" font-style="italic" font-weight="bold" font-size="15" fill="#d5d8ea" opacity="0.95">of America</text></g>

<path fill="#2040b2" stroke="#c9cfe8" stroke-width="0.9" stroke-dasharray="1.2 1" d="M669.7,831.5 L783.0,903.0 L576.5,1026.0 L456.6,944.7 Z"/>
<g transform="matrix(0.660,0.418,-1.060,0.560,634.0,871.0)"><text font-family="Liberation Serif, serif" font-size="26" fill="#ddd58e" stroke="#ddd58e" stroke-width="0.5">PASSPORT</text></g>
<g transform="matrix(0.786,0.498,-0.883,0.467,622.0,919.0) scale(1.55)" fill="url(#wdot)" stroke="url(#wdot)" opacity="0.92"><path d="M0,-20 C6,-20 10,-15 10,-9 C10,-5 8,-2 5,0 C12,-2 20,-8 26,-18 C30,-16 33,-12 34,-6 C30,-8 28,-6 30,-2 C27,-3 25,-1 26,3 C22,1 20,3 21,7 C16,5 13,7 13,11 L8,10 L10,18 L4,15 L0,22 L-4,15 L-10,18 L-8,10 L-13,11 C-13,7 -16,5 -21,7 C-20,3 -22,1 -26,3 C-25,-1 -27,-3 -30,-2 C-28,-6 -30,-8 -34,-6 C-33,-12 -30,-16 -26,-18 C-20,-8 -12,-2 -5,0 C-8,-2 -10,-5 -10,-9 C-10,-15 -6,-20 0,-20 Z"/><circle cx="0" cy="-10" r="13" fill="none" stroke-width="3"/></g>
<g transform="matrix(0.660,0.418,-1.060,0.560,530.0,934.0)"><text font-family="Liberation Serif, serif" font-style="italic" font-weight="bold" font-size="15" fill="#d5d8ea" opacity="0.95">United States</text></g>
<g transform="matrix(0.660,0.418,-1.060,0.560,514.0,947.0)"><text font-family="Liberation Serif, serif" font-style="italic" font-weight="bold" font-size="15" fill="#d5d8ea" opacity="0.95">of America</text></g>

<path fill="#8c1e2b" stroke="#e0c4c4" stroke-width="0.9" stroke-dasharray="1.2 1" d="M981.0,768.7 L1108.7,828.0 L925.0,937.0 L800.4,862.0 Z"/>
<g transform="matrix(0.670,0.335,-1.020,0.600,962.0,794.0)"><text font-family="Liberation Serif, serif" font-size="26" fill="#dcbf8e" stroke="#dcbf8e" stroke-width="0.5">PASSPORT</text></g>
<g transform="matrix(0.798,0.399,-0.850,0.500,961.0,841.0) scale(1.55)" fill="url(#wdot)" stroke="url(#wdot)" opacity="0.92"><path d="M0,-20 C6,-20 10,-15 10,-9 C10,-5 8,-2 5,0 C12,-2 20,-8 26,-18 C30,-16 33,-12 34,-6 C30,-8 28,-6 30,-2 C27,-3 25,-1 26,3 C22,1 20,3 21,7 C16,5 13,7 13,11 L8,10 L10,18 L4,15 L0,22 L-4,15 L-10,18 L-8,10 L-13,11 C-13,7 -16,5 -21,7 C-20,3 -22,1 -26,3 C-25,-1 -27,-3 -30,-2 C-28,-6 -30,-8 -34,-6 C-33,-12 -30,-16 -26,-18 C-20,-8 -12,-2 -5,0 C-8,-2 -10,-5 -10,-9 C-10,-15 -6,-20 0,-20 Z"/><circle cx="0" cy="-10" r="13" fill="none" stroke-width="3"/></g>
<g transform="matrix(0.670,0.335,-1.020,0.600,879.0,856.0)"><text font-family="Liberation Serif, serif" font-style="italic" font-weight="bold" font-size="15" fill="#e2c8c8" opacity="0.95">United States</text></g>
<g transform="matrix(0.670,0.335,-1.020,0.600,865.0,870.0)"><text font-family="Liberation Serif, serif" font-style="italic" font-weight="bold" font-size="15" fill="#e2c8c8" opacity="0.95">of America</text></g>

<path fill="#8f1f2c" stroke="#e0c4c4" stroke-width="0.9" stroke-dasharray="1.2 1" d="M892.0,718.7 L1019.7,778.0 L836.0,887.0 L711.4,812.0 Z"/>
<g transform="matrix(0.670,0.335,-1.020,0.600,873.0,744.0)"><text font-family="Liberation Serif, serif" font-size="26" fill="#dcbf8e" stroke="#dcbf8e" stroke-width="0.5">PASSPORT</text></g>
<g transform="matrix(0.798,0.399,-0.850,0.500,872.0,791.0) scale(1.55)" fill="url(#wdot)" stroke="url(#wdot)" opacity="0.92"><path d="M0,-20 C6,-20 10,-15 10,-9 C10,-5 8,-2 5,0 C12,-2 20,-8 26,-18 C30,-16 33,-12 34,-6 C30,-8 28,-6 30,-2 C27,-3 25,-1 26,3 C22,1 20,3 21,7 C16,5 13,7 13,11 L8,10 L10,18 L4,15 L0,22 L-4,15 L-10,18 L-8,10 L-13,11 C-13,7 -16,5 -21,7 C-20,3 -22,1 -26,3 C-25,-1 -27,-3 -30,-2 C-28,-6 -30,-8 -34,-6 C-33,-12 -30,-16 -26,-18 C-20,-8 -12,-2 -5,0 C-8,-2 -10,-5 -10,-9 C-10,-15 -6,-20 0,-20 Z"/><circle cx="0" cy="-10" r="13" fill="none" stroke-width="3"/></g>
<g transform="matrix(0.670,0.335,-1.020,0.600,790.0,806.0)"><text font-family="Liberation Serif, serif" font-style="italic" font-weight="bold" font-size="15" fill="#e2c8c8" opacity="0.95">United States</text></g>
<g transform="matrix(0.670,0.335,-1.020,0.600,776.0,820.0)"><text font-family="Liberation Serif, serif" font-style="italic" font-weight="bold" font-size="15" fill="#e2c8c8" opacity="0.95">of America</text></g>

<rect x="430" y="700" width="740" height="420" fill="url(#mdot)"/>
</g>
<!-- hem of mesh layer (red side) -->
<path fill="none" stroke="#161616" stroke-width="7" stroke-linecap="round" d="M886,903 L950,888 L1006,871 L1060,852 L1119,830"/>
<!-- straps -->
<g fill="none" stroke="#191919" stroke-width="6" stroke-linecap="round">
<path d="M580,1040 L700,992 L820,940 L900,906"/>
<path d="M673,1104 L734,1040 L800,977 L842,946 L886,903"/>
<path d="M884,902 L940,838 L975,800"/>
<path d="M901,893 L960,836 L1019,779"/>
</g>

<!--CALLOUTS-->
<g fill="none" stroke="#f0a232" stroke-width="3.6">
<path d="M714 327H1018"/>
<path d="M761 480H1013"/>
<path d="M786 673.5H1018"/>
<path d="M710.5 619V747.5H228"/>
<path d="M784 890V1209.5H484"/>
<path d="M977 1059V1265.5H1135"/>
</g>
<g fill="#fff" stroke="#f0a232" stroke-width="3">
<circle cx="705" cy="327" r="7.5"/>
<circle cx="752" cy="480" r="7.5"/>
<circle cx="777" cy="673" r="7.5"/>
<circle cx="710.5" cy="610" r="7.5"/>
<circle cx="784" cy="881" r="7.5"/>
<circle cx="977" cy="1050" r="7.5"/>
</g>
</svg>
<div class="lb" id="l1a" style="left:1020px;top:293px;letter-spacing:0.79px">13 Pockets Accordion</div>
<div class="lb" id="l1b" style="left:1020px;top:342px;letter-spacing:0.8px">File Folder</div>
<div class="lb" id="l2" style="left:1023px;top:460px;letter-spacing:1.07px">Zipper Pocket*1</div>
<div class="lb" id="l3" style="left:1022px;top:651.5px;letter-spacing:0.24px">Small Mesh Bag*4</div>
<div class="lb" id="l4" style="left:17px;top:727px;letter-spacing:0.9px">Card Slot*6</div>
<div class="lb" id="l5" style="left:100.5px;top:1187px;letter-spacing:0.47px">Medium Mesh Bag*4</div>
<div class="lb" id="l6" style="left:1133px;top:1249px;letter-spacing:0.8px">Main Pocket*1</div>
</body></html>
